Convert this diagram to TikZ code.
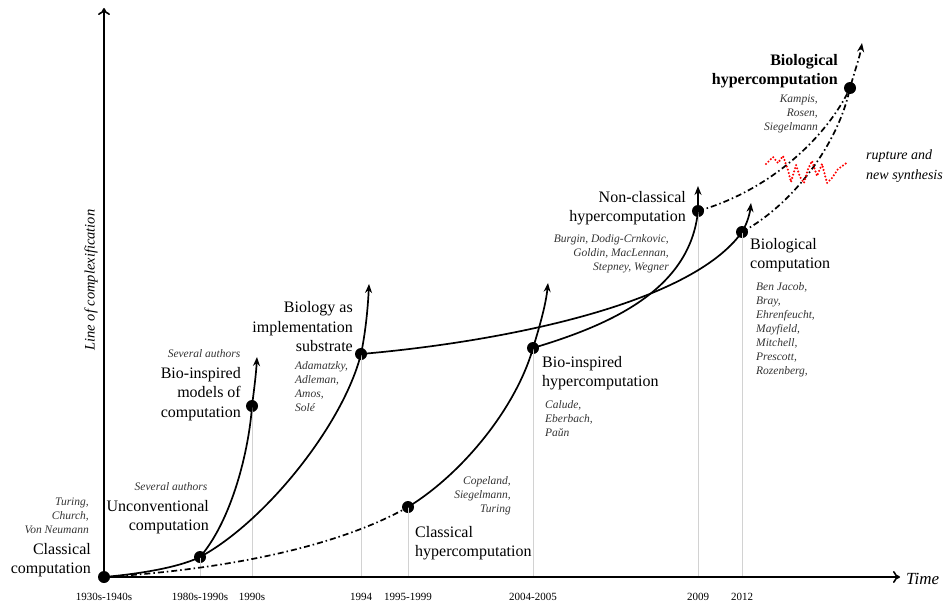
\documentclass[tikz,border=0pt]{standalone}
\usepackage{fontspec}
\setmainfont{Liberation Serif}
\usetikzlibrary{arrows.meta}

\tikzset{
  dot/.style={circle, fill=black, inner sep=0pt, minimum size=12pt},
  curve/.style={line width=1.7pt},
  dashdot/.style={line width=1.7pt, dash pattern=on 6pt off 3pt on 1.5pt off 3pt},
  guide/.style={gray!35, line width=1pt},
  title/.style={inner sep=0pt, font=\fontsize{16}{19.5}\selectfont},
  who/.style={inner sep=0pt, text=black!80, font=\fontsize{11.5}{14}\selectfont\itshape},
  year/.style={inner sep=0pt, font=\fontsize{11}{13}\selectfont}
}

\begin{document}
\begin{tikzpicture}[x=1pt, y=-1pt, >={Stealth[length=9pt, width=7pt]}]
  \useasboundingbox (0,0) rectangle (947,604);

  % points on the line of time
  \node[dot] (cc) at (104,577) {};
  \node[dot] (uc) at (200,557) {};
  \node[dot] (bm) at (252,406) {};
  \node[dot] (bs) at (361,354) {};
  \node[dot] (ch) at (408,507) {};
  \node[dot] (bh) at (533,348) {};
  \node[dot] (nc) at (698,211) {};
  \node[dot] (bc) at (742,232) {};
  \node[dot] (bio) at (850,88) {};

  \coordinate (o) at (104,577);
  \coordinate (xend) at (900,577);
  \coordinate (yend) at (104,8);
  \coordinate (bmtop) at (257,357);
  \coordinate (bstop) at (369,284);
  \coordinate (bhtop) at (548,283);
  \coordinate (nctop) at (698,186);
  \coordinate (bctop) at (751,203);
  \coordinate (biotop) at (862,43);

  % grey guides down to the axis
  \foreach \n in {uc, bm, bs, ch, bh, nc, bc}
    \draw[guide] (\n.center) -- (\n.center |- o);

  % axes
  \draw[line width=2.2pt, -{To[length=7pt, width=12pt, line width=1.6pt]}] (o) -- (xend);
  \draw[line width=2.2pt, -{To[length=7pt, width=12pt, line width=1.6pt]}] (o) -- (yend);
  \node[anchor=west, inner sep=0pt, font=\fontsize{17}{20}\selectfont\itshape] (time) at (906,579) {Time};
  \node[rotate=90, inner sep=0pt, font=\fontsize{14.5}{17}\selectfont\itshape] (lc) at (91,280) {Line of complexification};

  % years
  \foreach \n/\t in {cc/1930s-1940s, uc/1980s-1990s, bm/1990s, bs/1994, ch/1995-1999, bh/2004-2005, nc/2009, bc/2012}
    \node[year] at ([yshift=-20pt]\n.center |- o) {\t};

  % solid lines
  \draw[curve, ->] (cc.center) .. controls (160,572) and (188,563) .. (uc.center)
    .. controls (232,520) and (249,450) .. (bm.center)
    .. controls (254,390) and (256,375) .. (bmtop);
  \draw[curve, ->] (uc.center) .. controls (265,522) and (343,425) .. (bs.center)
    .. controls (366,330) and (368,305) .. (bstop);
  \draw[curve, ->] (ch.center) .. controls (462,474) and (516,408) .. (bh.center)
    .. controls (541,322) and (546,303) .. (bhtop);
  \draw[curve, ->] (bh.center) .. controls (610,325) and (690,290) .. (nc.center) -- (nctop);
  \draw[curve, ->] (bs.center) .. controls (500,342) and (690,305) .. (bc.center)
    .. controls (748,222) and (750,212) .. (bctop);

  % dash-dot lines
  \draw[dashdot] (cc.center) .. controls (250,568) and (350,540) .. (ch.center);
  \draw[dashdot] (nc.center) .. controls (772,190) and (828,135) .. (bio.center);
  \draw[dashdot, ->] (bc.center) .. controls (792,205) and (838,145) .. (bio.center)
    .. controls (855,70) and (860,56) .. (biotop);

  % rupture
  \draw[red, line width=2.3pt, dash pattern=on 0pt off 3.4pt, line cap=round]
    (766,164) -- (773,157) -- (778,163) -- (783,156) -- (788,170) -- (791,182)
    -- (796,165) -- (800,177) -- (804,183) -- (808,169) -- (812,161) -- (817,176)
    -- (822,164) -- (827,183) -- (832,178) -- (838,169) -- (848,162);
  \node[who, anchor=west, align=left, text=black, font=\fontsize{14}{20}\selectfont\itshape] (rup) at (866,166) {rupture and\\new synthesis};

  % titles
  \node[title, anchor=east, align=right] (tcc) at (91,560) {Classical\\computation};
  \node[title, anchor=east, align=right] (tuc) at (209,517) {Unconventional\\computation};
  \node[title, anchor=east, align=right] (tbm) at (241,394) {Bio-inspired\\models of\\computation};
  \node[title, anchor=east, align=right] (tbs) at (353,327) {Biology as\\implementation\\substrate};
  \node[title, anchor=west, align=left] (tch) at (415,543) {Classical\\hypercomputation};
  \node[title, anchor=west, align=left] (tbh) at (542,373) {Bio-inspired\\hypercomputation};
  \node[title, anchor=east, align=right] (tnc) at (686,208) {Non-classical\\hypercomputation};
  \node[title, anchor=west, align=left] (tbc) at (750,255) {Biological\\computation};
  \node[title, anchor=east, align=right, font=\fontsize{16}{19.5}\selectfont\bfseries] (tbio) at (838,71) {Biological\\hypercomputation};

  % authors
  \node[who, anchor=east, align=right] (acc) at (89,516) {Turing,\\Church,\\Von Neumann};
  \node[who] (auc) at (171,487) {Several authors};
  \node[who] (abm) at (204,354) {Several authors};
  \node[who, anchor=west, align=left] (abs) at (295,387) {Adamatzky,\\Adleman,\\Amos,\\Solé};
  \node[who, anchor=east, align=right] (ach) at (511,496) {Copeland,\\Siegelmann,\\Turing};
  \node[who, anchor=west, align=left] (abh) at (545,419) {Calude,\\Eberbach,\\Paŭn};
  \node[who, anchor=east, align=right] (anc) at (669,254) {Burgin, Dodig-Crnkovic,\\Goldin, MacLennan,\\Stepney, Wegner};
  \node[who, anchor=west, align=left] (abc) at (756,330) {Ben Jacob,\\Bray,\\Ehrenfeucht,\\Mayfield,\\Mitchell,\\Prescott,\\Rozenberg,};
  \node[who, anchor=east, align=right] (abio) at (818,114) {Kampis,\\Rosen,\\Siegelmann};
\end{tikzpicture}
\end{document}
